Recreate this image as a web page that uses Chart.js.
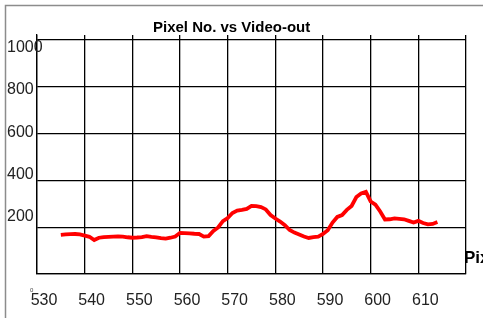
<!DOCTYPE html>
<html>
<head>
<meta charset="utf-8">
<script src="https://cdn.jsdelivr.net/npm/chart.js@4"></script>
<style>
  html, body { margin: 0; padding: 0; background: #fff; }
  canvas { display: block; }
</style>
</head>
<body>
<canvas id="chart" width="483" height="318"></canvas>
<script>
// --- Data ---
const pixelNo = [
  535, 536, 537, 538, 539, 540, 541, 542, 543, 544,
  545, 546, 547, 548, 549, 550, 551, 552, 553, 554,
  555, 556, 557, 558, 559, 560, 561, 562, 563, 564,
  565, 566, 567, 568, 569, 570, 571, 572, 573, 574,
  575, 576, 577, 578, 579, 580, 581, 582, 583, 584,
  585, 586, 587, 588, 589, 590, 591, 592, 593, 594,
  595, 596, 597, 598, 599, 600, 601, 602, 603, 604,
  605, 606, 607, 608, 609, 610, 611, 612, 613, 614
];
const videoOut = [
  167, 169, 170, 171, 169, 164, 159, 145, 155, 158,
  159, 160, 161, 160, 157, 155, 156, 158, 162, 159,
  157, 153, 151, 155, 160, 176, 175, 174, 172, 171,
  160, 162, 184, 199, 226, 239, 261, 271, 274, 278,
  291, 290, 286, 276, 252, 237, 224, 209, 188, 177,
  169, 160, 154, 158, 160, 171, 187, 220, 244, 252,
  274, 291, 329, 344, 351, 310, 296, 267, 233, 234,
  238, 236, 234, 227, 220, 227, 218, 212, 214, 222
];

const xTicks = [530, 540, 550, 560, 570, 580, 590, 600, 610, 620];
const xTickLabels = ['530', '540', '550', '560', '570', '580', '590', '600', '610', ''];
const yGridTicks = [0, 200, 400, 600, 800, 1000];
const yTicks = [200, 400, 600, 800, 1000];
const yTickLabels = ['200', '400', '600', '800', '1000'];

const chartTitle = 'Pixel No. vs Video-out';
const xAxisTitle = 'Pixel No.';

const FONT = '"Liberation Sans", Arial, sans-serif';
Chart.defaults.font.family = FONT;

// frame, title and the stray axis title are drawn straight onto the canvas
const decor = {
  id: 'decor',
  beforeDraw(chart) {
    const ctx = chart.ctx;
    ctx.save();
    ctx.strokeStyle = '#8c8c8c';
    ctx.lineWidth = 1.5;
    ctx.beginPath();
    ctx.moveTo(5.5, 318);
    ctx.lineTo(5.5, 5.5);
    ctx.lineTo(483, 5.5);
    ctx.stroke();
    ctx.restore();
  },
  afterDraw(chart) {
    const ctx = chart.ctx;
    const area = chart.chartArea;
    ctx.save();
    ctx.fillStyle = '#000';
    ctx.textAlign = 'left';
    ctx.textBaseline = 'alphabetic';
    ctx.font = 'bold 15px ' + FONT;
    ctx.fillText(chartTitle, 153, 32);
    ctx.font = 'bold 17px ' + FONT;
    ctx.fillText(xAxisTitle, area.right - 2, 263);
    ctx.font = '6px ' + FONT;
    ctx.fillStyle = '#444';
    ctx.fillText('0', 30, 292);
    ctx.restore();
  }
};

const gridStyle = { color: '#000', lineWidth: 1.3, drawTicks: false };
const borderStyle = { color: '#000', width: 1.3 };

new Chart(document.getElementById('chart'), {
  type: 'line',
  data: {
    datasets: [{
      data: pixelNo.map((p, i) => ({ x: p, y: videoOut[i] })),
      xAxisID: 'x',
      yAxisID: 'y',
      borderColor: '#ff0000',
      borderWidth: 3.8,
      pointRadius: 0,
      tension: 0,
      fill: false
    }]
  },
  options: {
    responsive: false,
    animation: false,
    devicePixelRatio: 1,
    layout: { padding: { left: 6, right: 14, top: 35, bottom: 0 } },
    plugins: {
      legend: { display: false },
      tooltip: { enabled: false },
      title: { display: false }
    },
    scales: {
      x: {
        type: 'linear',
        min: 530,
        max: 620,
        grid: gridStyle,
        border: borderStyle,
        afterBuildTicks: (s) => { s.ticks = xTicks.map(v => ({ value: v })); },
        afterFit: (s) => { s.height = 44; },
        ticks: {
          callback: (v, i) => xTickLabels[i],
          labelOffset: 7,
          padding: 17,
          autoSkip: false,
          maxRotation: 0,
          color: '#222',
          font: { size: 16 }
        }
      },
      y: {
        position: 'left',
        weight: 0,
        min: 0,
        max: 1021.4,
        grid: gridStyle,
        border: borderStyle,
        afterBuildTicks: (s) => { s.ticks = yGridTicks.map(v => ({ value: v })); },
        afterFit: (s) => { s.width = 31; },
        ticks: { display: false }
      },
      // separate axis for the labels, they sit off the grid lines in the original.
      // mirrored so "1000" is not clipped where it runs over the axis line
      yl: {
        position: 'left',
        weight: 1,
        min: -71.5,
        max: 1059.9,
        grid: { display: false },
        border: { display: false },
        afterBuildTicks: (s) => { s.ticks = yTicks.map(v => ({ value: v })); },
        afterFit: (s) => { s.width = 0; },
        ticks: {
          callback: (v, i) => yTickLabels[i],
          mirror: true,
          crossAlign: 'near',
          padding: 1,
          color: '#222',
          font: { size: 16 }
        }
      }
    }
  },
  plugins: [decor]
});
</script>
</body>
</html>
